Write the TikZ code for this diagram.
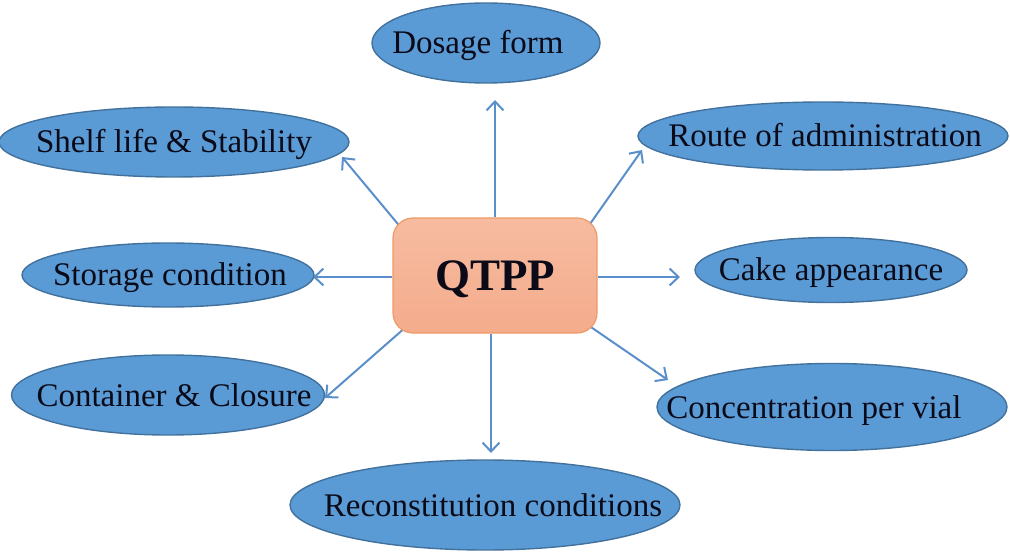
\documentclass[tikz,border=0pt]{standalone}
\usepackage{fontspec}
\setmainfont{Liberation Serif}
\usetikzlibrary{arrows.meta,calc,shapes.geometric}
\pgfdeclarelayer{background}
\pgfsetlayers{background,main}
\definecolor{ellfill}{HTML}{5B9BD5}
\definecolor{elldraw}{HTML}{41719C}
\definecolor{arrcol}{HTML}{5A8FCB}
\definecolor{boxtop}{HTML}{F7BBA0}
\definecolor{boxbot}{HTML}{F4AC8C}
\definecolor{boxdraw}{HTML}{EE9A68}
\definecolor{txtcol}{HTML}{0A0A18}
\newcommand\shifttext[2]{\makebox[0pt]{\hspace*{#1}#2\hspace*{-#1}}}
\tikzset{
  attr/.style={ellipse, fill=ellfill, draw=elldraw, line width=1.4bp, inner sep=0pt,
    text=txtcol, font=\fontsize{33bp}{40bp}\selectfont, text height=22bp, text depth=0bp},
  qbox/.style={rectangle, rounded corners=20bp, top color=boxtop, bottom color=boxbot,
    draw=boxdraw, line width=1.2bp, minimum width=204bp, minimum height=115bp,
    text=txtcol, font=\fontsize{45bp}{50bp}\selectfont\bfseries, text height=30bp, text depth=0bp, inner sep=0pt},
  arr/.style={draw=arrcol, line width=2bp, -{Straight Barb[length=9bp,width=17bp]}}
}
\begin{document}
\begin{tikzpicture}[x=1bp,y=-1bp]
\useasboundingbox (0,0) rectangle (1010,554);
\node[qbox] (q) at (495,275.5) {QTPP};
\node[attr, minimum width=228bp, minimum height=80bp] (dos) at (486,43) {\shifttext{-8bp}{Dosage form}};
\node[attr, minimum width=350bp, minimum height=70bp] (shelf) at (174,142) {\shifttext{0bp}{Shelf life \& Stability}};
\node[attr, minimum width=370bp, minimum height=68bp] (route) at (823,136) {\shifttext{2bp}{Route of administration}};
\node[attr, minimum width=292bp, minimum height=64bp] (stor) at (168,275) {\shifttext{2bp}{Storage condition}};
\node[attr, minimum width=272bp, minimum height=65bp] (cake) at (831,270) {\shifttext{0bp}{Cake appearance}};
\node[attr, minimum width=313bp, minimum height=80bp] (cont) at (168,395) {\shifttext{6bp}{Container \& Closure}};
\node[attr, minimum width=350bp, minimum height=87bp] (conc) at (832,407) {\shifttext{-18bp}{Concentration per vial}};
\node[attr, minimum width=390bp, minimum height=90bp] (rec) at (485,505) {\shifttext{8bp}{Reconstitution conditions}};
\coordinate (tDos) at (495,100);
\coordinate (tShelf) at (342,157);
\coordinate (tRoute) at (642,150);
\coordinate (tStor) at (313,277);
\coordinate (tCake) at (680,277);
\coordinate (tCont) at (325,398);
\coordinate (tConc) at (668,380);
\coordinate (tRec) at (491,453);
\begin{pgfonlayer}{background}
\draw[arr] (q.north -| tDos) -- (tDos);
\draw[arr] ($(tShelf)!1.3!(q.north west)$) -- (tShelf);
\draw[arr] ($(tRoute)!1.3!($(q.north east)+(-3,0)$)$) -- (tRoute);
\draw[arr] (q.west |- tStor) -- (tStor);
\draw[arr] (q.east |- tCake) -- (tCake);
\draw[arr] ($(tCont)!1.3!($(q.south west)+(6,0)$)$) -- (tCont);
\draw[arr] ($(tConc)!1.3!($(q.south east)+(-3,-4)$)$) -- (tConc);
\draw[arr] (q.south -| tRec) -- (tRec);
\end{pgfonlayer}
\end{tikzpicture}
\end{document}
